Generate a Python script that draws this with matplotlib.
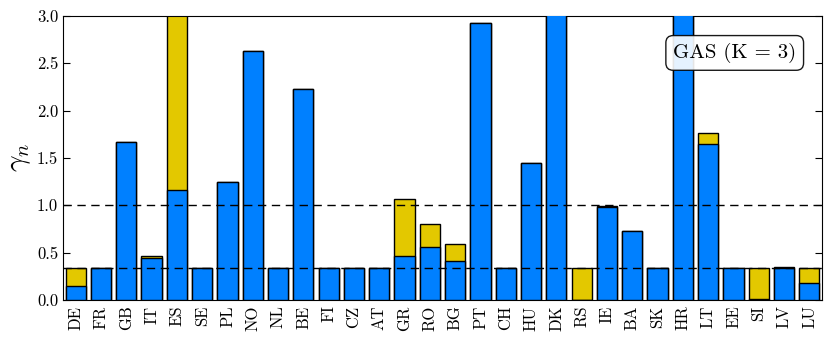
import matplotlib
matplotlib.use("Agg")
import matplotlib.pyplot as plt
import numpy as np

countries = ["DE", "FR", "GB", "IT", "ES", "SE", "PL", "NO", "NL", "BE",
             "FI", "CZ", "AT", "GR", "RO", "BG", "PT", "CH", "HU", "DK",
             "RS", "IE", "BA", "SK", "HR", "LT", "EE", "SI", "LV", "LU"]
blue_vals = [0.15, 0.333, 1.67, 0.44, 1.16, 0.34, 1.25, 2.63, 0.333, 2.23,
             0.333, 0.333, 0.333, 0.47, 0.56, 0.41, 2.93, 0.333, 1.45, 3.2,
             0.0, 0.98, 0.73, 0.34, 3.3, 1.65, 0.333, 0.01, 0.34, 0.18]
total_vals = [0.333, 0.333, 1.67, 0.47, 3.5, 0.34, 1.25, 2.63, 0.333, 2.23,
              0.333, 0.333, 0.333, 1.07, 0.80, 0.59, 2.93, 0.333, 1.45, 3.2,
              0.333, 0.99, 0.73, 0.34, 3.3, 1.76, 0.333, 0.333, 0.35, 0.333]
hlines = [1.0, 1.0 / 3]
label_text = "GAS (K = 3)"

plt.rcParams["font.family"] = "serif"
plt.rcParams["font.serif"] = ["cmr10", "DejaVu Serif"]
plt.rcParams["mathtext.fontset"] = "cm"
plt.rcParams["axes.formatter.use_mathtext"] = True

fig = plt.figure(figsize=(8.3, 3.38), dpi=100)
ax = fig.add_axes([63 / 830, 38 / 338, 759 / 830, 284 / 338])

x = np.arange(len(countries))
yellow = "#e3c800"
blue = "#0080ff"
ax.bar(x, total_vals, width=0.8, color=yellow, edgecolor="black", linewidth=1.0, zorder=2)
ax.bar(x, blue_vals, width=0.8, color=blue, edgecolor="black", linewidth=1.0, zorder=3)
for h in hlines:
    ax.axhline(h, color="black", linestyle="--", linewidth=1.0, dashes=(6, 4), zorder=4)

ax.set_xlim(-0.5, len(countries) - 0.5)
ax.set_ylim(0, 3.0)
ax.set_yticks([0.0, 0.5, 1.0, 1.5, 2.0, 2.5, 3.0])
ax.set_yticklabels(["0.0", "0.5", "1.0", "1.5", "2.0", "2.5", "3.0"])
ax.set_xticks(x)
ax.set_xticklabels(countries, rotation=90)
ax.tick_params(axis="x", length=0, labelsize=12, pad=4)
ax.tick_params(axis="y", direction="in", length=5, labelsize=12, right=True)
ax.set_ylabel(r"$\gamma_n$", fontsize=21, labelpad=3)

ax.text(0.885, 0.87, label_text, transform=ax.transAxes, fontsize=15,
        ha="center", va="center", zorder=6,
        bbox=dict(boxstyle="round,pad=0.35", facecolor="white", alpha=0.9,
                  edgecolor="black", linewidth=1.0))

fig.savefig("out.png", dpi=100)
